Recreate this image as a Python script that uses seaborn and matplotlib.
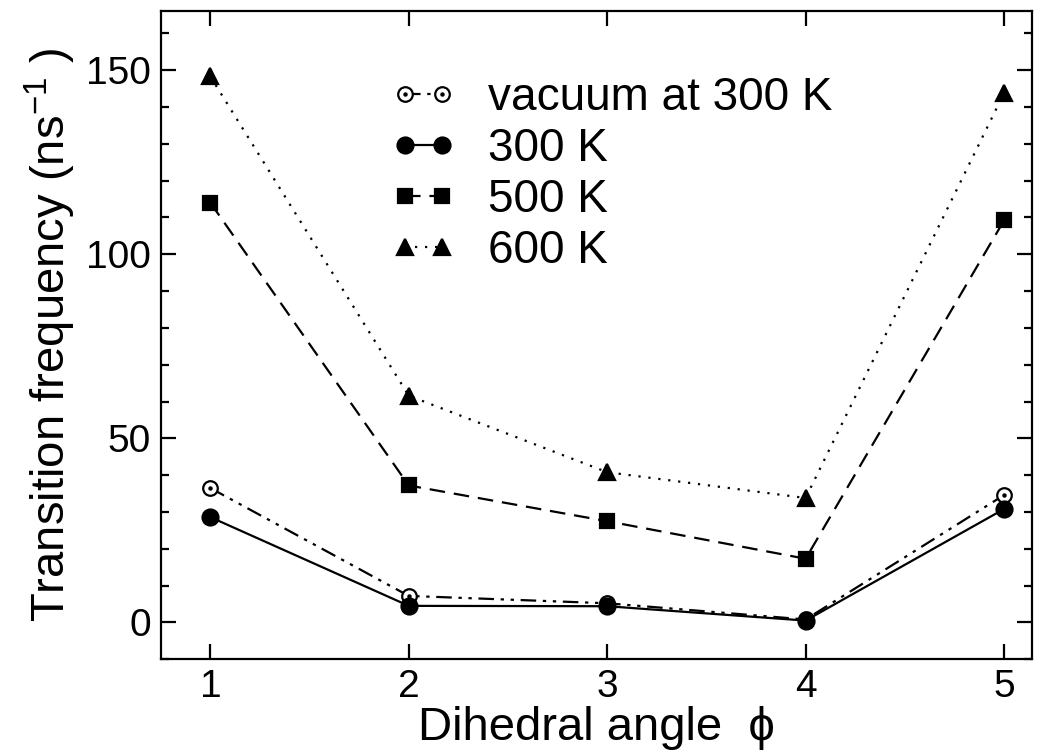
import numpy as np
import pandas as pd
import matplotlib
matplotlib.use("Agg")
import matplotlib.pyplot as plt
import seaborn as sns
from matplotlib.lines import Line2D
from matplotlib.legend_handler import HandlerTuple
from matplotlib.ticker import MultipleLocator

# data
angles = [1, 2, 3, 4, 5]
vacuum_300 = [36.5, 7.2, 5.2, 0.8, 34.6]
solv_300 = [28.6, 4.5, 4.4, 0.5, 30.8]
solv_500 = [114.0, 37.2, 27.5, 17.3, 109.2]
solv_600 = [148.3, 61.6, 40.8, 33.8, 143.8]
labels = ["vacuum at 300 K", "300 K", "500 K", "600 K"]

sns.set_theme(style="ticks")
plt.rcParams['font.family'] = ['Liberation Sans', 'DejaVu Sans']
plt.rcParams['mathtext.fontset'] = 'custom'
plt.rcParams['mathtext.rm'] = 'Liberation Sans'
for k in ['text.color', 'axes.labelcolor', 'xtick.color', 'ytick.color', 'axes.edgecolor']:
    plt.rcParams[k] = 'black'

fig, ax = plt.subplots(figsize=(10.37, 7.56), dpi=100)

df = pd.DataFrame({'angle': angles * 4,
                   'freq': vacuum_300 + solv_300 + solv_500 + solv_600,
                   'series': np.repeat(labels, len(angles))})

styles = {
    "vacuum at 300 K": dict(ls=(0, (7, 3, 1.5, 3, 1.5, 3)), marker='o', mfc='white', ms=10.5),
    "300 K": dict(ls='-', marker='o', mfc='black', ms=11.5),
    "500 K": dict(ls=(0, (7, 4)), marker='s', mfc='black', ms=10),
    "600 K": dict(ls=(0, (1, 3.5)), marker='^', mfc='black', ms=11),
}

handles = []
for lab in labels:
    st = styles[lab]
    sub = df[df['series'] == lab]
    sns.lineplot(data=sub, x='angle', y='freq', ax=ax, color='black', lw=1.6,
                 linestyle=st['ls'], marker=st['marker'], markersize=st['ms'],
                 markerfacecolor=st['mfc'], markeredgecolor='black', markeredgewidth=1.6)
    h = Line2D([], [], color='black', lw=1.6, linestyle=st['ls'], marker=st['marker'],
               markersize=st['ms'], markerfacecolor=st['mfc'], markeredgecolor='black',
               markeredgewidth=1.6)
    if lab == "vacuum at 300 K":
        # small dot in centre of the open circles
        ax.plot(sub['angle'], sub['freq'], ls='none', marker='o', ms=2.2, color='black')
        dot = Line2D([], [], ls='none', marker='o', ms=2.2, color='black')
        h = (h, dot)
    handles.append(h)

ax.set_xlim(0.75, 5.14)
ax.set_ylim(-10, 166)
ax.xaxis.set_major_locator(MultipleLocator(1))
ax.yaxis.set_major_locator(MultipleLocator(50))
ax.yaxis.set_minor_locator(MultipleLocator(10))
ax.tick_params(which='both', direction='in', top=True, right=True, width=1.6,
               labelsize=28, pad=7)
ax.tick_params(which='major', length=11)
ax.tick_params(which='minor', length=6)
ax.tick_params(axis='x', which='minor', bottom=False, top=False)
for sp in ax.spines.values():
    sp.set_linewidth(1.6)

ax.set_xlabel("Dihedral angle  \u03d5", fontsize=34, labelpad=1)
ax.set_ylabel(r"Transition frequency (ns$^{\mathregular{-1}}$ )", fontsize=34, labelpad=6)

leg = ax.legend(handles, labels, loc='upper left', bbox_to_anchor=(0.265, 0.9),
                frameon=False, fontsize=33, numpoints=2, handlelength=1.4,
                handletextpad=0.7, labelspacing=0.15, borderpad=0, borderaxespad=0,
                handler_map={tuple: HandlerTuple(ndivide=1, pad=0)})

plt.subplots_adjust(left=0.155, right=0.995, top=0.985, bottom=0.128)
fig.savefig("out.png", dpi=100)
